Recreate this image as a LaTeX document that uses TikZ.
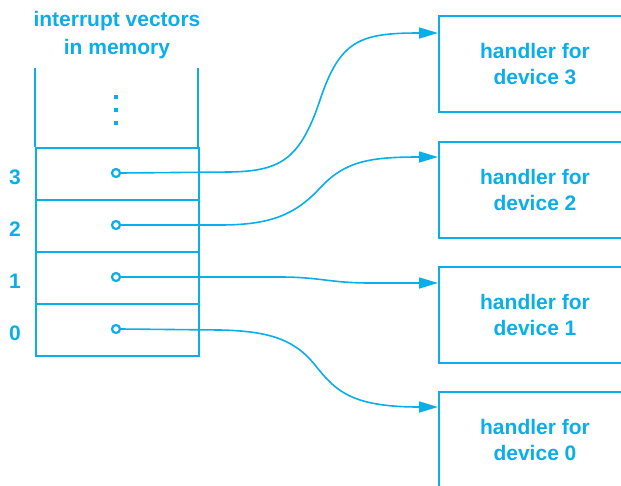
\documentclass[tikz,border=0pt]{standalone}
\usepackage{fontspec}
\setmainfont{Liberation Sans}
\usetikzlibrary{arrows.meta,calc}
\definecolor{cy}{HTML}{0AAFEA}
\tikzset{
  ln/.style={draw=cy,line width=1.6pt},
  lbl/.style={text=cy,font=\bfseries\fontsize{21}{26}\selectfont,align=center,inner sep=0pt},
  ttl/.style={lbl,font=\bfseries\fontsize{21}{28}\selectfont},
  cell/.style={ln,minimum width=163pt,minimum height=52pt,inner sep=0pt,anchor=north west},
  hbox/.style={ln,minimum width=194pt,minimum height=96pt,inner sep=0pt,anchor=north west},
  ring/.style={circle,draw=cy,line width=2.2pt,minimum size=8pt,inner sep=0pt},
  conn/.style={draw=cy,line width=1.6pt,-{Triangle[length=19pt,width=11pt]}},
  dot/.style={fill=cy,minimum size=4.5pt,inner sep=0pt}
}
\begin{document}
\begin{tikzpicture}[x=1pt,y=-1pt]
\useasboundingbox (0,0) rectangle (621,485);
\clip (0,0) rectangle (621,485);
% title
\node[ttl] (title) at (117,35) {interrupt vectors\\in memory};
% memory column
\draw[ln] (35,68) -- (35,147);
\draw[ln] (198,68) -- (198,147);
\node[dot] (d1) at (116,97) {};
\node[dot] (d2) at (116,110) {};
\node[dot] (d3) at (116,123) {};
\node[cell] (m3) at (35,147) {};
\node[cell] (m2) at (35,199) {};
\node[cell] (m1) at (35,251) {};
\node[cell] (m0) at (35,303) {};
% labels
\node[lbl] (l3) at (15,177) {3};
\node[lbl] (l2) at (15,229) {2};
\node[lbl] (l1) at (15,281) {1};
\node[lbl] (l0) at (15,333) {0};
% rings
\node[ring] (c3) at (116,173) {};
\node[ring] (c2) at (116,225) {};
\node[ring] (c1) at (116,277) {};
\node[ring] (c0) at (116,329) {};
% handler boxes
\node[hbox] (h3) at (438,15) {};
\node[hbox] (h2) at (438,141) {};
\node[hbox] (h1) at (438,266) {};
\node[hbox] (h0) at (438,391) {};
\node[lbl] (t3) at (535,64) {handler for\\device 3};
\node[lbl] (t2) at (535,190) {handler for\\device 2};
\node[lbl] (t1) at (535,315) {handler for\\device 1};
\node[lbl] (t0) at (535,440) {handler for\\device 0};
\coordinate (a3) at (438,33);
\coordinate (a2) at (438,157);
\coordinate (a1) at (438,283);
\coordinate (a0) at (438,407);
% connectors
\draw[conn] (c3.east) -- (230,172) .. controls (280,171) and (300,160) .. (320,100)
  .. controls (340,40) and (360,33) .. (a3);
\draw[conn] (c2.east) -- (220,225) .. controls (270,225) and (295,215) .. (320,188)
  .. controls (345,161) and (370,157) .. (a2);
\draw[conn] (c1.east) -- (280,277) .. controls (320,277) and (330,283) .. (370,283) -- (a1);
\draw[conn] (c0.east) -- (220,330) .. controls (270,331) and (295,340) .. (315,365)
  .. controls (335,390) and (350,407) .. (a0);
\end{tikzpicture}
\end{document}
